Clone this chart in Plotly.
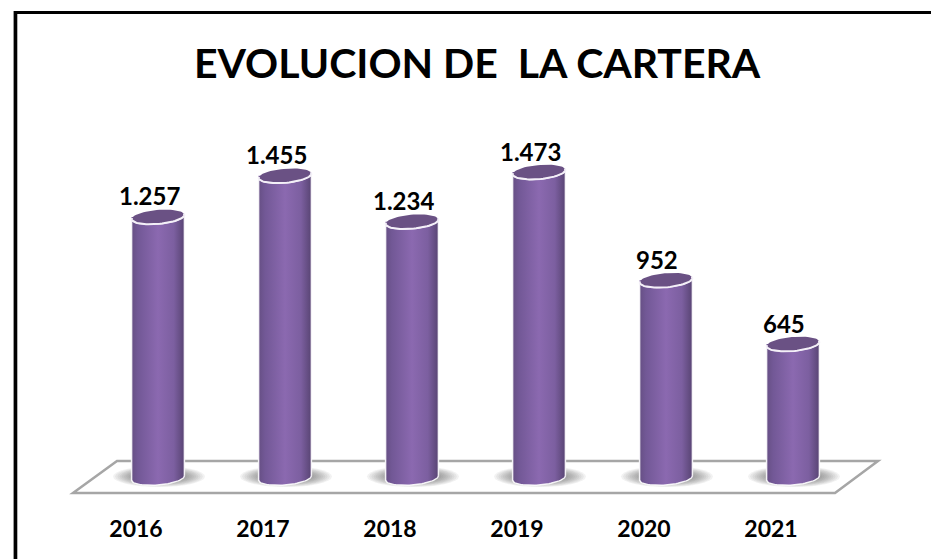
import numpy as np
import plotly.graph_objects as go

years = ["2016", "2017", "2018", "2019", "2020", "2021"]
cartera = [1257, 1455, 1234, 1473, 952, 645]
labels = ["1.257", "1.455", "1.234", "1.473", "952", "645"]
title_text = "EVOLUCION DE\u00a0 LA CARTERA"

W, H = 931, 559
ML, MR, MT, MB = 30, 11, 20, 64          # plot-area margins
PX_PER_CAT = 127.0
PX_PER_UNIT = 0.2077
X0_PX, Y0_PX = 158.0, 478.0              # pixel of category 0 / value 0
x_range = [(ML - X0_PX) / PX_PER_CAT, (W - MR - X0_PX) / PX_PER_CAT]
y_range = [(Y0_PX - (H - MB)) / PX_PER_UNIT, (Y0_PX - MT) / PX_PER_UNIT]
BAR_W = 53 / PX_PER_CAT
TICK_SHIFT = 22 / PX_PER_CAT             # year labels sit left of the cylinders
FONT = "Lato"
GRAD = [[0, "#664f84"], [0.12, "#725896"], [0.5, "#8b69b0"], [0.8, "#7c5fa0"], [1, "#584473"]]


def paper_x(px):
    return (px - ML) / (W - ML - MR)


def paper_y(px):
    return (H - MB - px) / (H - MT - MB)


def ellipse_path(cx, cy, a, b, tilt, t0=0.0, t1=2 * np.pi, n=60):
    """Ellipse in pixel offsets converted to data units about data centre cx, cy."""
    t = np.linspace(t0, t1, n)
    dx = a * np.cos(t) * np.cos(tilt) - b * np.sin(t) * np.sin(tilt)
    dy = a * np.cos(t) * np.sin(tilt) + b * np.sin(t) * np.cos(tilt)
    return cx + dx / PX_PER_CAT, cy - dy / PX_PER_UNIT


TILT = np.radians(-5)
A, B = 26.5, 7.0
fig = go.Figure()

# Bars
fig.add_trace(go.Bar(x=list(range(6)), y=cartera, width=BAR_W, marker_color="#7a5c9c",
                     marker_line_width=0, showlegend=False, hoverinfo="x+y"))

for i, v in enumerate(cartera):
    # Cylinder body: top edge of ellipse centre line plus bottom half ellipse
    tx, ty = ellipse_path(i, v, A, B, TILT, np.pi, 0, 30)
    bx, by = ellipse_path(i, 0, A, B, TILT, 0, np.pi, 40)
    xs = np.r_[bx, tx, bx[0]]
    ys = np.r_[by, ty, by[0]]
    fig.add_trace(go.Scatter(x=xs, y=ys, mode="lines", line=dict(color="rgba(255,255,255,0.9)", width=1.5),
                             fill="toself", fillgradient=dict(type="horizontal", colorscale=GRAD),
                             showlegend=False, hoverinfo="skip"))
    # Top cap
    cx_, cy_ = ellipse_path(i, v, A, B, TILT)
    fig.add_trace(go.Scatter(x=cx_, y=cy_, mode="lines", line=dict(color="rgba(0,0,0,0)", width=0),
                             fill="toself", fillcolor="#6a5184", showlegend=False, hoverinfo="skip"))
    rx, ry = ellipse_path(i, v, A, B, TILT, np.radians(-10), np.radians(190), 40)
    fig.add_trace(go.Scatter(x=rx, y=ry, mode="lines", line=dict(color="#f4f0f8", width=2),
                             showlegend=False, hoverinfo="skip"))

annotations = [dict(x=i, y=v, text=f"<b>{t}</b>", showarrow=False, xshift=-9, yshift=21,
                    font=dict(family=FONT, size=24, color="#000"), xanchor="center", yanchor="middle")
               for i, (v, t) in enumerate(zip(cartera, labels))]
annotations.append(dict(xref="paper", yref="paper", x=paper_x(477), y=paper_y(62), text=f"<b>{title_text}</b>",
                        showarrow=False, font=dict(family=FONT, size=41, color="#000"),
                        xanchor="center", yanchor="middle"))

shapes = []
# Floor
fx = [73, 117, 878, 835]
fy = [493, 461, 461, 493]
path = "M " + " L ".join(f"{paper_x(a):.5f} {paper_y(b):.5f}" for a, b in zip(fx, fy)) + " Z"
shapes.append(dict(type="path", xref="paper", yref="paper", path=path, layer="below",
                   line=dict(color="#a6a6a6", width=2.5), fillcolor="#fff"))
# Soft shadows on the floor
for i in range(6):
    c = X0_PX + PX_PER_CAT * i + 1
    for k in range(10):
        a = 46 - k * 2.2
        b = 10.5 - k * 0.6
        shapes.append(dict(type="circle", xref="paper", yref="paper", layer="below",
                           x0=paper_x(c - a), x1=paper_x(c + a), y0=paper_y(476.5 - b), y1=paper_y(476.5 + b),
                           fillcolor="rgba(90,90,90,0.08)", line_width=0))
# Frame: left and top rules only, running off the page
shapes.append(dict(type="rect", xref="paper", yref="paper", layer="above",
                   x0=paper_x(13), x1=paper_x(14), y0=paper_y(H + 2), y1=paper_y(11),
                   fillcolor="#999", line_width=0))
shapes.append(dict(type="rect", xref="paper", yref="paper", layer="above",
                   x0=paper_x(14), x1=paper_x(17.3), y0=paper_y(H + 2), y1=paper_y(11),
                   fillcolor="#000", line_width=0))
shapes.append(dict(type="rect", xref="paper", yref="paper", layer="above",
                   x0=paper_x(14), x1=paper_x(W + 2), y0=paper_y(14), y1=paper_y(11),
                   fillcolor="#000", line_width=0))

fig.update_layout(
    width=W, height=H, autosize=False, margin=dict(l=ML, r=MR, t=MT, b=MB),
    paper_bgcolor="#fff", plot_bgcolor="rgba(0,0,0,0)", showlegend=False, barmode="overlay",
    annotations=annotations, shapes=shapes,
    xaxis=dict(range=x_range, tickmode="array", tickvals=[i - TICK_SHIFT for i in range(6)],
               ticktext=[f"<b>{y}</b>" for y in years],
               showgrid=False, zeroline=False, showline=False, ticks="outside", ticklen=13,
               tickcolor="rgba(0,0,0,0)", tickfont=dict(family=FONT, size=23, color="#000")),
    yaxis=dict(range=y_range, visible=False, showgrid=False, zeroline=False),
)
fig.write_html("out.html", config={"displayModeBar": False},
               post_script="document.body.style.margin='0';document.body.style.overflow='hidden';")
